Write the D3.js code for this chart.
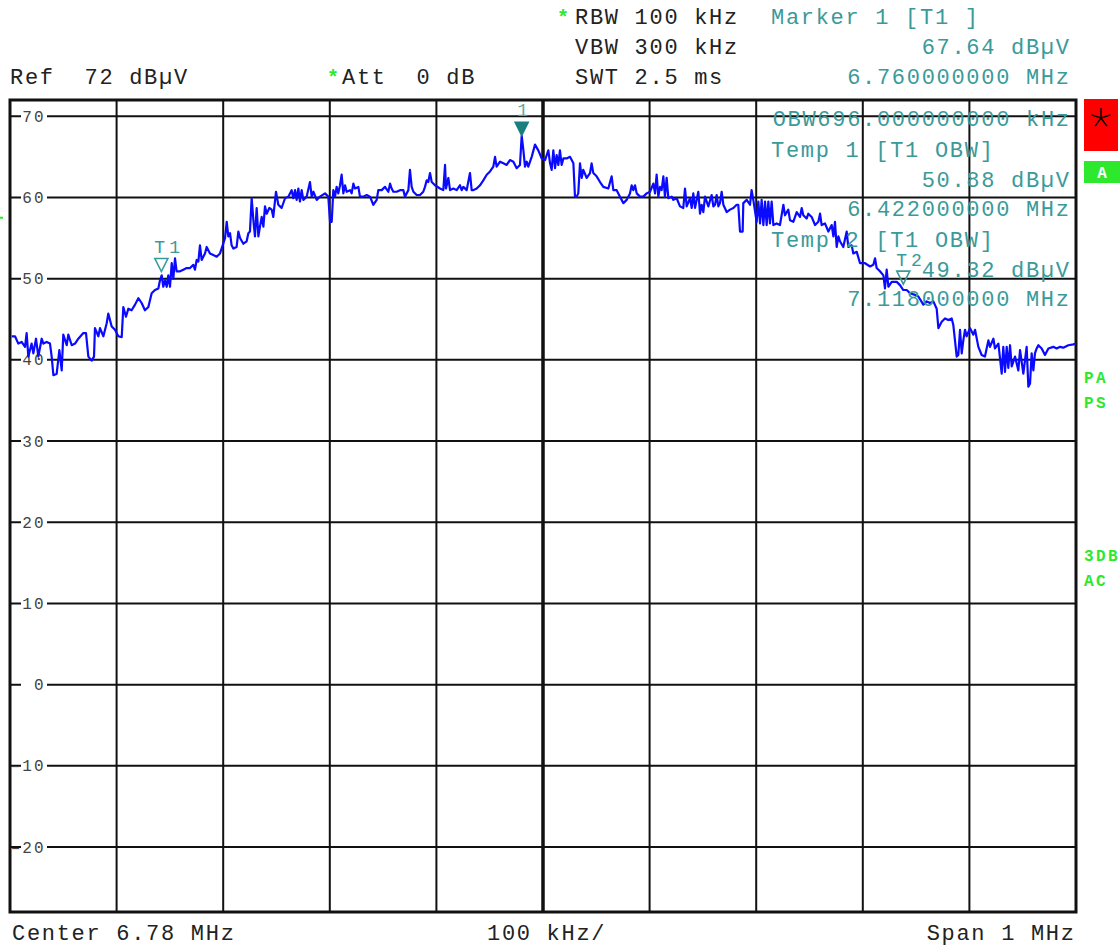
<!DOCTYPE html>
<html>
<head>
<meta charset="utf-8">
<script src="https://cdn.jsdelivr.net/npm/d3@7"></script>
<style>
  body { margin: 0; background: #fff; }
  svg text { font-family: "Liberation Mono", "DejaVu Sans Mono", monospace; white-space: pre; }
</style>
</head>
<body>
<svg id="chart" width="1120" height="947"></svg>
<script>
// instrument settings
const centerMHz = 6.78;
const spanMHz = 1;
const refLevel = 72;
const rangeDb = 100;

const yTicks = [70, 60, 50, 40, 30, 20, 10, 0, -10, -20];
const xGrid = [6.28, 6.38, 6.48, 6.58, 6.68, 6.78, 6.88, 6.98, 7.08, 7.18, 7.28];

const refText = "Ref  72 dBµV";
const attText = "Att  0 dB";
const sweepSettings = ["RBW 100 kHz", "VBW 300 kHz", "SWT 2.5 ms"];
const markerReadout = ["Marker 1 [T1 ]", "67.64 dBµV", "6.760000000 MHz"];
const obwReadout = ["OBW696.000000000 kHz", "Temp 1 [T1 OBW]", "50.88 dBµV", "6.422000000 MHz",
                    "Temp 2 [T1 OBW]", "49.32 dBµV", "7.118000000 MHz"];
const footer = ["Center 6.78 MHz", "100 kHz/", "Span 1 MHz"];
const statusTop = ["PA", "PS"];
const statusBottom = ["3DB", "AC"];

const markers = [
  { name: "1", f: 6.76, level: 67.64, filled: true },
  { name: "T1", f: 6.422, level: 50.88, filled: false },
  { name: "T2", f: 7.118, level: 49.32, filled: false }
];

// trace: [frequency MHz, level dBµV]
const traceData = [
  [6.2816,42.9],[6.2847,42.9],[6.2878,42.0],[6.2909,42.2],[6.2941,41.6],[6.2956,43.3],[6.2972,40.4],[6.3003,42.0],
  [6.3019,40.8],[6.3044,42.6],[6.3066,40.4],[6.3097,42.6],[6.3113,42.0],[6.3144,42.2],[6.3175,42.0],[6.3191,40.4],
  [6.3207,38.1],[6.3238,38.3],[6.3263,41.2],[6.3285,38.7],[6.3300,43.1],[6.3332,41.8],[6.3347,43.1],[6.3379,41.8],
  [6.3410,42.0],[6.3441,42.6],[6.3488,43.3],[6.3513,43.3],[6.3535,40.4],[6.3566,39.9],[6.3588,40.4],[6.3597,43.9],
  [6.3629,42.9],[6.3644,43.9],[6.3676,42.9],[6.3707,44.5],[6.3722,45.7],[6.3754,44.1],[6.3785,43.7],[6.3816,42.9],
  [6.3848,42.8],[6.3863,46.5],[6.3888,45.3],[6.3910,46.3],[6.3941,46.1],[6.3973,46.8],[6.4004,47.6],[6.4035,47.0],
  [6.4066,46.1],[6.4098,46.5],[6.4129,48.2],[6.4160,48.6],[6.4192,48.8],[6.4207,49.8],[6.4223,50.4],[6.4238,49.0],
  [6.4254,49.8],[6.4270,49.0],[6.4285,50.4],[6.4301,49.0],[6.4317,51.9],[6.4332,50.0],[6.4348,52.5],[6.4363,50.9],
  [6.4395,50.9],[6.4426,51.1],[6.4457,51.3],[6.4489,51.3],[6.4520,51.7],[6.4535,51.1],[6.4551,52.3],[6.4567,52.1],
  [6.4582,54.1],[6.4598,52.3],[6.4629,53.1],[6.4645,53.9],[6.4676,53.1],[6.4707,52.9],[6.4739,52.7],[6.4770,53.1],
  [6.4795,54.1],[6.4817,55.0],[6.4833,57.0],[6.4848,55.2],[6.4864,55.6],[6.4879,54.1],[6.4895,53.7],[6.4926,53.9],
  [6.4942,55.8],[6.4958,55.0],[6.4989,54.3],[6.5020,54.6],[6.5036,55.6],[6.5051,55.8],[6.5067,59.9],[6.5083,57.2],
  [6.5098,55.2],[6.5114,58.7],[6.5130,55.2],[6.5145,56.4],[6.5161,57.6],[6.5177,56.4],[6.5192,58.9],[6.5208,58.0],
  [6.5233,58.7],[6.5255,58.5],[6.5270,57.6],[6.5295,60.7],[6.5317,59.1],[6.5333,58.9],
  [6.5348,58.7],[6.5380,59.9],[6.5411,60.1],[6.5442,60.9],[6.5458,59.9],[6.5474,60.9],[6.5489,59.7],[6.5505,61.1],
  [6.5520,59.5],[6.5536,60.9],[6.5552,59.7],[6.5583,60.1],[6.5614,61.9],[6.5630,60.1],[6.5646,60.7],[6.5677,59.7],
  [6.5708,60.1],[6.5755,60.5],[6.5786,60.1],[6.5802,57.0],[6.5818,57.0],[6.5833,60.9],[6.5849,60.1],[6.5864,61.3],
  [6.5880,60.5],[6.5896,61.5],[6.5911,62.8],[6.5927,60.5],[6.5943,61.5],[6.5958,60.7],[6.5990,60.9],[6.6005,60.5],
  [6.6021,61.7],[6.6036,61.1],[6.6068,61.3],[6.6083,60.1],[6.6115,60.1],[6.6146,60.3],[6.6177,60.1],[6.6208,59.1],
  [6.6240,59.7],[6.6255,60.9],[6.6287,60.9],[6.6318,61.3],[6.6349,60.7],[6.6365,61.7],[6.6380,61.1],[6.6396,60.7],
  [6.6427,60.7],[6.6459,60.9],[6.6490,60.9],[6.6505,60.1],[6.6537,60.9],[6.6552,63.4],[6.6568,61.3],[6.6584,60.7],
  [6.6615,60.3],[6.6646,60.3],[6.6677,60.7],[6.6693,61.3],[6.6709,62.1],[6.6724,61.9],[6.6740,63.0],[6.6756,61.9],
  [6.6787,61.5],[6.6834,61.1],[6.6865,60.9],[6.6881,64.0],[6.6890,61.1],[6.6912,62.4],[6.6928,60.9],[6.6959,61.1],
  [6.6990,60.9],[6.7021,61.5],[6.7037,60.9],[6.7053,61.3],[6.7084,60.9],[6.7115,63.0],[6.7131,60.9],[6.7147,60.9],
  [6.7178,61.1],[6.7209,61.5],[6.7240,62.1],[6.7272,62.8],[6.7303,63.2],[6.7334,63.8],[6.7350,65.0],[6.7365,63.8],
  [6.7397,64.4],[6.7428,64.2],[6.7459,64.0],[6.7490,64.6],[6.7522,64.4],[6.7553,63.6],[6.7584,64.0],[6.7600,67.6],
  [6.7616,65.8],[6.7631,63.8],[6.7647,64.4],[6.7662,63.8],[6.7694,65.0],[6.7725,66.5],[6.7756,65.8],[6.7788,64.8],
  [6.7819,64.6],
  [6.7850,65.8],[6.7866,64.2],[6.7881,63.4],[6.7897,65.8],[6.7913,63.6],[6.7928,65.2],[6.7944,64.0],[6.7959,65.8],
  [6.7975,64.0],[6.7991,64.8],[6.8022,64.8],[6.8053,65.0],[6.8085,64.2],[6.8100,60.1],[6.8116,60.1],[6.8131,60.5],
  [6.8147,64.2],[6.8163,62.4],[6.8178,63.4],[6.8210,62.4],[6.8241,63.0],[6.8256,64.2],[6.8272,63.0],[6.8303,62.6],
  [6.8335,61.9],[6.8366,61.3],[6.8413,61.1],[6.8444,62.6],[6.8460,60.9],[6.8491,60.9],[6.8522,60.1],[6.8554,59.3],
  [6.8585,59.7],[6.8616,60.5],[6.8632,61.5],[6.8647,60.9],[6.8663,61.5],[6.8679,60.5],[6.8710,60.1],[6.8741,60.1],
  [6.8772,60.5],[6.8804,60.7],[6.8835,61.7],[6.8851,60.5],[6.8866,62.8],[6.8882,60.1],[6.8898,61.3],[6.8913,60.9],
  [6.8929,62.6],[6.8944,60.1],[6.8960,62.4],[6.8976,59.9],[6.9007,60.1],[6.9023,59.7],[6.9054,59.9],[6.9085,58.9],
  [6.9116,58.7],[6.9132,61.1],[6.9148,58.9],[6.9179,59.9],[6.9195,58.7],[6.9210,60.5],[6.9226,58.7],[6.9257,60.7],
  [6.9273,58.0],[6.9288,59.1],[6.9304,58.2],[6.9320,60.1],[6.9351,58.9],[6.9382,60.3],[6.9398,58.9],[6.9414,59.1],
  [6.9429,60.3],[6.9445,58.9],[6.9460,59.3],[6.9476,60.7],[6.9492,59.1],[6.9523,58.2],[6.9554,58.5],[6.9586,58.7],
  [6.9617,59.1],[6.9632,59.1],[6.9648,55.8],[6.9673,55.8],[6.9679,59.3],[6.9711,59.7],[6.9742,59.1],[6.9757,60.9],
  [6.9773,59.7],[6.9804,57.0],[6.9820,59.5],[6.9836,56.8],[6.9851,59.7],[6.9867,56.6],[6.9883,59.5],[6.9898,56.6],
  [6.9914,59.5],[6.9929,56.8],[6.9945,59.5],[6.9961,56.6],[6.9992,56.8],[7.0023,56.6],[7.0055,59.1],[7.0070,57.8],
  [7.0101,58.5],[7.0117,57.2],[7.0148,57.0],
  [7.0180,58.2],[7.0211,57.6],[7.0227,58.7],[7.0242,57.8],[7.0273,57.4],[7.0289,58.0],[7.0320,57.6],[7.0352,56.6],
  [7.0383,57.0],[7.0399,58.0],[7.0414,56.6],[7.0445,56.8],[7.0477,55.8],[7.0508,56.6],[7.0524,55.2],[7.0539,57.0],
  [7.0555,53.9],[7.0571,55.2],[7.0586,54.6],[7.0617,53.9],[7.0649,55.8],[7.0664,53.9],[7.0696,54.1],[7.0711,53.1],
  [7.0743,53.3],[7.0774,51.9],[7.0821,51.9],[7.0868,51.5],[7.0899,51.7],[7.0915,52.5],[7.0930,51.3],[7.0961,50.9],
  [7.0993,50.4],[7.1008,48.8],[7.1024,51.1],[7.1040,49.0],[7.1071,49.6],[7.1118,49.6],[7.1149,49.2],[7.1180,48.6],
  [7.1212,48.6],[7.1243,48.2],[7.1290,48.0],[7.1321,47.8],[7.1368,46.8],[7.1399,47.2],[7.1430,47.0],[7.1462,47.2],
  [7.1493,46.3],[7.1509,43.9],[7.1540,44.7],[7.1571,45.1],[7.1602,44.9],[7.1634,45.1],[7.1649,44.3],[7.1681,40.4],
  [7.1696,40.6],[7.1712,43.7],[7.1728,40.8],[7.1743,42.4],[7.1759,43.7],[7.1774,42.9],[7.1806,43.9],[7.1837,43.1],
  [7.1853,43.7],[7.1884,41.6],[7.1915,40.6],[7.1946,40.4],[7.1978,42.4],[7.1993,41.6],[7.2025,42.6],[7.2040,41.4],
  [7.2072,42.0],[7.2103,38.3],[7.2118,41.6],[7.2134,38.5],[7.2150,41.6],[7.2165,39.0],[7.2181,41.8],[7.2197,39.2],
  [7.2228,40.4],[7.2259,38.7],[7.2275,41.2],[7.2306,38.3],[7.2337,41.6],[7.2353,36.7],[7.2369,37.1],[7.2384,40.8],
  [7.2400,38.7],[7.2415,40.8],[7.2431,41.4],[7.2447,41.8],[7.2478,41.4],[7.2509,40.6],[7.2541,41.4],[7.2587,41.6],
  [7.2619,41.4],[7.2650,41.6],[7.2681,41.5],[7.2728,41.8],[7.2775,41.9],[7.2800,42.0]
];

const svg = d3.select("#chart");
const W = 1120, H = 947;
const plot = { left: 10, right: 1076, top: 100, bottom: 912 };

const teal = "#3a9a9a";
const green = "#2ee82e";
const fs = 22, ls = 1.7; // main monospaced text

const x = d3.scaleLinear()
  .domain([centerMHz - spanMHz / 2, centerMHz + spanMHz / 2])
  .range([plot.left, plot.right]);
const y = d3.scaleLinear()
  .domain([refLevel - rangeDb, refLevel])
  .range([plot.bottom, plot.top]);

svg.append("rect").attr("width", W).attr("height", H).attr("fill", "#fff");

function label(txt, px, py, opts = {}) {
  return svg.append("text")
    .attr("x", px).attr("y", py)
    .attr("font-size", opts.size || fs)
    .attr("letter-spacing", opts.ls != null ? opts.ls : ls)
    .attr("text-anchor", opts.anchor || "start")
    .attr("font-weight", opts.weight || "normal")
    .attr("fill", opts.color || "#222")
    .text(txt);
}

// header
const rowY = [24, 54, 84];
label("*", 557, rowY[0], { color: green, weight: "bold", size: 20 });
label("*", 327, rowY[2], { color: green, weight: "bold", size: 20 });
sweepSettings.forEach((t, i) => label(t, 575, rowY[i]));
label(refText, 10, rowY[2]);
label(attText, 342, rowY[2]);
label(markerReadout[0], 771, rowY[0], { color: teal });
label(markerReadout[1], 1069 + ls, rowY[1], { color: teal, anchor: "end" });
label(markerReadout[2], 1069 + ls, rowY[2], { color: teal, anchor: "end" });

// grid
const grid = svg.append("g");
grid.selectAll("line.h")
  .data(yTicks)
  .enter().append("line")
  .attr("x1", plot.left).attr("x2", plot.right)
  .attr("y1", d => y(d)).attr("y2", d => y(d))
  .attr("stroke", "#111").attr("stroke-width", 2);

grid.selectAll("line.v")
  .data(xGrid)
  .enter().append("line")
  .attr("x1", d => x(d)).attr("x2", d => x(d))
  .attr("y1", plot.top).attr("y2", plot.bottom)
  .attr("stroke", "#111")
  .attr("stroke-width", d => Math.abs(d - centerMHz) < 1e-6 ? 3.5 : 2);

// y tick labels with a white gap in the line
const tickG = svg.append("g");
tickG.selectAll("rect")
  .data(yTicks)
  .enter().append("rect")
  .attr("x", 21).attr("y", d => y(d) - 4)
  .attr("width", 26).attr("height", 8)
  .attr("fill", "#fff");
tickG.selectAll("text")
  .data(yTicks)
  .enter().append("text")
  .attr("x", 45.5).attr("y", d => y(d) + 5.5)
  .attr("text-anchor", "end")
  .attr("font-size", 16)
  .attr("letter-spacing", 2)
  .attr("fill", "#444")
  .text(d => d < 0 ? "\u2012" + Math.abs(d) : d);

// frame
svg.append("rect")
  .attr("x", plot.left).attr("y", plot.top)
  .attr("width", plot.right - plot.left).attr("height", plot.bottom - plot.top)
  .attr("fill", "none").attr("stroke", "#111").attr("stroke-width", 3);

// small green display-line mark on the left edge
svg.append("rect").attr("x", 0).attr("y", y(57.5) - 1).attr("width", 3).attr("height", 2).attr("fill", green);

// trace
svg.append("clipPath").attr("id", "plotClip")
  .append("rect")
  .attr("x", plot.left).attr("y", plot.top)
  .attr("width", plot.right - plot.left).attr("height", plot.bottom - plot.top);

const line = d3.line().x(d => x(d[0])).y(d => y(d[1]));
svg.append("path")
  .datum(traceData)
  .attr("clip-path", "url(#plotClip)")
  .attr("d", line)
  .attr("fill", "none")
  .attr("stroke", "#0a0aff")
  .attr("stroke-width", 2.2)
  .attr("stroke-linejoin", "round");

// markers
const mk = svg.append("g");
markers.forEach(m => {
  const cx = x(m.f), cy = y(m.level);
  mk.append("path")
    .attr("d", `M${cx - 6.5},${cy - 13}L${cx + 6.5},${cy - 13}L${cx},${cy}Z`)
    .attr("fill", m.filled ? "#1b7f7f" : "none")
    .attr("stroke", m.filled ? "#1b7f7f" : teal)
    .attr("stroke-width", 1.6);
  if (m.filled) {
    label(m.name, cx + 1, cy - 19.5, { color: "#5aaaaa", size: 18, ls: 0, anchor: "middle" });
  } else {
    label(m.name, cx - 7, cy - 18.5, { color: teal, size: 18, ls: 4 });
  }
});

// OBW readout drawn over the grid
const obwY = [126, 157, 187, 216, 247, 277, 306];
obwReadout.forEach((t, i) => {
  if (t.startsWith("Temp")) label(t, 771, obwY[i], { color: teal });
  else label(t, 1069 + ls, obwY[i], { color: teal, anchor: "end" });
});

// footer
label(footer[0], 12, 940);
label(footer[1], 487, 940);
label(footer[2], 1074 + ls, 940, { anchor: "end" });

// right-side status boxes
svg.append("rect").attr("x", 1084).attr("y", 99).attr("width", 34).attr("height", 52).attr("fill", "#ff0000");
const star = svg.append("g").attr("transform", "translate(1101,118)");
d3.range(5).forEach(i => {
  const a = (-90 + i * 72) * Math.PI / 180;
  star.append("line")
    .attr("x1", 0).attr("y1", 0)
    .attr("x2", 10 * Math.cos(a)).attr("y2", 10 * Math.sin(a))
    .attr("stroke", "#000").attr("stroke-width", 1.5);
});
svg.append("rect").attr("x", 1084).attr("y", 161).attr("width", 36).attr("height", 22).attr("fill", green);
label("A", 1102, 178, { color: "#fff", weight: "bold", size: 16, ls: 0, anchor: "middle" });

statusTop.forEach((t, i) => label(t, 1084, 383 + i * 25, { color: green, weight: "bold", size: 16, ls: 2.4 }));
statusBottom.forEach((t, i) => label(t, 1084, 561 + i * 25, { color: green, weight: "bold", size: 16, ls: 2.4 }));
</script>
</body>
</html>
